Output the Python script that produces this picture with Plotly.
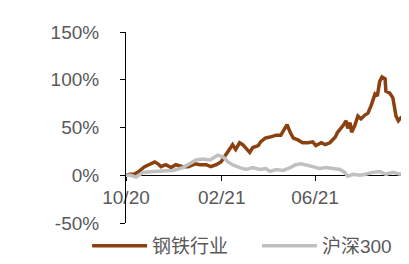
import plotly.graph_objects as go

steel_dates = ["2020-10-01", "2020-10-06", "2020-10-11", "2020-10-16", "2020-10-25", "2020-11-01",
               "2020-11-07", "2020-11-11", "2020-11-15", "2020-11-21", "2020-11-28", "2020-12-04",
               "2020-12-13", "2020-12-20", "2020-12-29", "2021-01-04", "2021-01-12", "2021-01-18",
               "2021-01-25", "2021-01-31", "2021-02-06", "2021-02-12", "2021-02-15", "2021-02-19",
               "2021-02-24", "2021-02-28", "2021-03-04", "2021-03-09", "2021-03-13", "2021-03-20",
               "2021-03-23", "2021-03-29", "2021-04-04", "2021-04-12", "2021-04-18", "2021-04-23",
               "2021-04-26", "2021-04-30", "2021-05-04", "2021-05-10", "2021-05-16", "2021-05-23",
               "2021-05-29", "2021-06-02", "2021-06-09", "2021-06-14", "2021-06-20", "2021-06-27",
               "2021-06-30", "2021-07-07", "2021-07-11", "2021-07-13", "2021-07-16", "2021-07-18",
               "2021-07-22", "2021-07-26", "2021-07-30", "2021-08-04", "2021-08-08", "2021-08-12",
               "2021-08-17", "2021-08-20", "2021-08-23", "2021-08-26", "2021-08-30", "2021-08-31",
               "2021-09-05", "2021-09-09", "2021-09-13", "2021-09-16", "2021-09-19", "2021-09-25",
               "2021-09-27", "2021-09-30"]
steel_vals = [0, 1, 1, 3, 9, 12,
              14, 12, 9, 11, 8, 11,
              9, 9, 12, 11, 11, 9,
              11, 14, 21, 27, 32, 27,
              34, 32, 29, 24, 29, 31,
              35, 39, 40, 42, 42, 49,
              53, 45, 39, 37, 34, 34,
              35, 31, 34, 32, 34, 40,
              45, 52, 57, 49, 55, 45,
              52, 62, 59, 63, 65, 73,
              85, 83, 98, 103, 101, 88,
              86, 81, 62, 57, 60, 57,
              50, 52]

hs_dates = ["2020-10-01", "2020-10-07", "2020-10-14", "2020-10-23", "2020-11-05", "2020-11-18",
            "2020-11-30", "2020-12-13", "2020-12-22", "2020-12-30", "2021-01-08", "2021-01-17",
            "2021-01-27", "2021-02-03", "2021-02-09", "2021-02-15", "2021-02-24", "2021-03-04",
            "2021-03-13", "2021-03-22", "2021-03-30", "2021-04-04", "2021-04-12", "2021-04-21",
            "2021-04-30", "2021-05-07", "2021-05-14", "2021-05-20", "2021-05-29", "2021-06-07",
            "2021-06-15", "2021-06-24", "2021-07-03", "2021-07-09", "2021-07-13", "2021-07-20",
            "2021-07-29", "2021-08-05", "2021-08-14", "2021-08-23", "2021-08-31", "2021-09-09",
            "2021-09-18", "2021-09-26", "2021-09-30"]
hs_vals = [0, 0, -2, 3, 4, 5,
           5, 8, 12, 16, 17, 16,
           21, 19, 14, 11, 8, 6,
           8, 6, 7, 4, 6, 5,
           8, 11, 12, 11, 9, 7,
           8, 7, 6, 3, -1, 1,
           0, 1, 3, 4, 1, 3,
           1, 3, 2]

tick_vals = ["2020-10-01", "2021-02-01", "2021-06-01", "2021-10-01"]
tick_text = ["10/20", "02/21", "06/21", ""]
y_ticks = [-50, 0, 50, 100, 150]
y_text = ["-50%", "0%", "50%", "100%", "150%"]

fig = go.Figure()
fig.add_trace(go.Scatter(x=steel_dates, y=steel_vals, mode="lines", name="钢铁行业",
                         line=dict(color="#8B4010", width=3.5), legend="legend"))
fig.add_trace(go.Scatter(x=hs_dates, y=hs_vals, mode="lines", name="沪深300",
                         line=dict(color="#C0C0C0", width=3.5), legend="legend2"))

font_family = "Liberation Sans, Arial, Noto Sans CJK SC, sans-serif"
legend_common = dict(orientation="h", y=-0.02, xanchor="left", yanchor="top",
                     font=dict(size=19, color="#595959"), itemwidth=55,
                     bgcolor="rgba(0,0,0,0)")
fig.update_layout(
    width=409, height=264,
    margin=dict(l=118, r=7, t=24, b=37),
    paper_bgcolor="white", plot_bgcolor="white",
    font=dict(family=font_family, size=19, color="#595959"),
    showlegend=True,
    legend=dict(x=-0.137, **legend_common),
    legend2=dict(x=0.461, **legend_common),
    xaxis=dict(range=["2020-10-01", "2021-10-01"], tickmode="array", tickvals=tick_vals,
               ticktext=tick_text, showgrid=False, zeroline=False, showline=True,
               linecolor="black", linewidth=1, ticks="outside", ticklen=5, tickcolor="black",
               anchor="free", position=0.25, layer="below traces"),
    yaxis=dict(range=[-50, 150], tickmode="array", tickvals=y_ticks, ticktext=y_text,
               showgrid=False, zeroline=False, showline=True, linecolor="black", linewidth=1,
               ticks="outside", ticklen=5, tickcolor="black", domain=[0, 1],
               ticklabelstandoff=17),
)
fig.write_html("out.html")
